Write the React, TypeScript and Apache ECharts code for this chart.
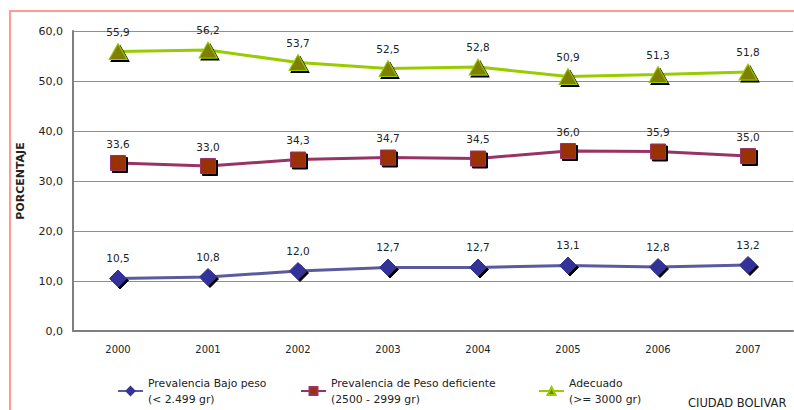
import React, { useEffect, useRef } from "react";
import * as echarts from "echarts";

const years = ["2000", "2001", "2002", "2003", "2004", "2005", "2006", "2007"];
const bajoPeso = [10.5, 10.8, 12.0, 12.7, 12.7, 13.1, 12.8, 13.2];
const pesoDeficiente = [33.6, 33.0, 34.3, 34.7, 34.5, 36.0, 35.9, 35.0];
const adecuado = [55.9, 56.2, 53.7, 52.5, 52.8, 50.9, 51.3, 51.8];
const seriesNames = ["Prevalencia Bajo peso", "Prevalencia de Peso deficiente", "Adecuado"];
const seriesSub = ["(< 2.499 gr)", "(2500 - 2999 gr)", "(>= 3000 gr)"];
const yTitle = "PORCENTAJE";
const footer = "CIUDAD BOLIVAR";

const FONT = "DejaVu Sans";
const fmt = (v: number) => v.toFixed(1).replace(".", ",");

export default function App() {
  const ref = useRef<HTMLDivElement>(null);
  useEffect(() => {
    if (!ref.current) return;
    const chart = echarts.init(ref.current, null, { renderer: "svg" });
    const shadow = { shadowColor: "rgba(0,0,0,1)", shadowBlur: 0.5, shadowOffsetX: 2, shadowOffsetY: 2 };
    const label = {
      show: true,
      position: "top" as const,
      distance: 6,
      formatter: (p: any) => fmt(p.value),
      fontFamily: FONT,
      fontSize: 10.5,
      color: "#222",
    };
    const mk = (name: string, data: number[], lineColor: string, symbol: string, size: any, fill: string, border: string) => ({
      name,
      type: "line",
      data,
      symbol,
      symbolSize: size,
      lineStyle: { color: lineColor, width: 3 },
      itemStyle: { color: fill, borderColor: border, borderWidth: 1, ...shadow },
      label,
      emphasis: { disabled: true },
    });
    const legendItem = (i: number, left: number) => ({
      data: [seriesNames[i]],
      left,
      top: 367,
      padding: 0,
      itemWidth: 25,
      itemHeight: 10,
      formatter: (n: string) => n + "\n" + seriesSub[i],
      textStyle: { fontFamily: FONT, fontSize: 10.8, color: "#222", lineHeight: 16, padding: [16, 0, 0, 0] },
      selectedMode: false,
    });
    chart.setOption({
      animation: false,
      backgroundColor: "#fff",
      grid: { left: 73, right: 1, top: 31, bottom: 79 },
      xAxis: {
        type: "category",
        data: years,
        boundaryGap: true,
        axisLine: { lineStyle: { color: "#7f7f7f", width: 2 } },
        axisTick: { show: false },
        axisLabel: { fontFamily: FONT, fontSize: 10, color: "#222", margin: 13 },
      },
      yAxis: {
        type: "value",
        min: 0,
        max: 60,
        interval: 10,
        name: yTitle,
        nameLocation: "middle",
        nameGap: 47,
        nameTextStyle: { fontFamily: FONT, fontSize: 11, fontWeight: "bold", color: "#222" },
        axisLine: { show: true, lineStyle: { color: "#7f7f7f", width: 2 } },
        axisTick: { show: false },
        axisLabel: { fontFamily: FONT, fontSize: 11, color: "#222", formatter: (v: number) => fmt(v), margin: 10 },
        splitLine: { lineStyle: { color: "#8f8f8f", width: 1 } },
      },
      legend: [legendItem(0, 117), legendItem(1, 300), legendItem(2, 538)],
      graphic: [
        {
          type: "rect",
          shape: { x: 10, y: 11, width: 820, height: 430 },
          style: { fill: "none", stroke: "#ff9a9a", lineWidth: 2 },
          silent: true,
          z: -10,
        },
        {
          type: "text",
          left: 688,
          top: 397,
          style: { text: footer, fontFamily: FONT, fontSize: 11.5, fill: "#222" },
        },
      ],
      series: [
        mk(seriesNames[0], bajoPeso, "#5a5a9e", "diamond", [17, 17], "#333399", "#333399"),
        mk(seriesNames[1], pesoDeficiente, "#993366", "rect", [15, 15], "#993300", "#993366"),
        mk(seriesNames[2], adecuado, "#99cc00", "triangle", [18, 16], "#808000", "#99cc00"),
      ],
    });
    return () => chart.dispose();
  }, []);
  return <div ref={ref} style={{ position: "absolute", left: 0, top: 0, width: 794, height: 410 }} />;
}
